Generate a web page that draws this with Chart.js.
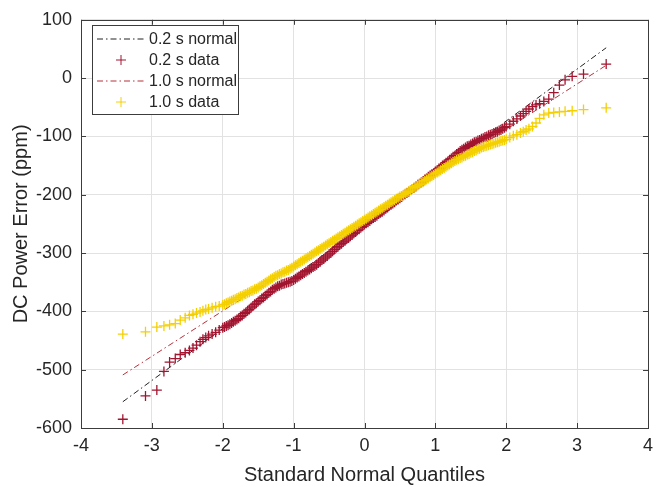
<!DOCTYPE html>
<html>
<head>
<meta charset="utf-8">
<script src="https://cdn.jsdelivr.net/npm/chart.js@4"></script>
<style>
  body { margin: 0; background: #fff; }
  #wrap { width: 668px; height: 487px; }
</style>
</head>
<body>
<div id="wrap"><canvas id="qqChart"></canvas></div>
<script>
// standard normal quantiles (shared by both series)
const quantiles = [
  -3.41, -3.09, -2.93, -2.83, -2.75, -2.67, -2.60, -2.53, -2.47, -2.42, -2.37, -2.32, -2.28, -2.24,
  -2.20, -2.15, -2.10, -2.05,
  -2.000, -1.975, -1.950, -1.925, -1.900, -1.875, -1.850, -1.825,
  -1.800, -1.775, -1.750, -1.725, -1.700, -1.675, -1.650, -1.625,
  -1.600, -1.575, -1.550, -1.525, -1.500, -1.475, -1.450, -1.425,
  -1.400, -1.375, -1.350, -1.325, -1.300, -1.275, -1.250, -1.225,
  -1.200, -1.175, -1.150, -1.125, -1.100, -1.075, -1.050, -1.025,
  -1.000, -0.975, -0.950, -0.925, -0.900, -0.875, -0.850, -0.825,
  -0.800, -0.775, -0.750, -0.725, -0.700, -0.675, -0.650, -0.625,
  -0.600, -0.575, -0.550, -0.525, -0.500, -0.475, -0.450, -0.425,
  -0.400, -0.375, -0.350, -0.325, -0.300, -0.275, -0.250, -0.225,
  -0.200, -0.175, -0.150, -0.125, -0.100, -0.075, -0.050, -0.025,
  0.000, 0.025, 0.050, 0.075, 0.100, 0.125, 0.150, 0.175,
  0.200, 0.225, 0.250, 0.275, 0.300, 0.325, 0.350, 0.375,
  0.400, 0.425, 0.450, 0.475, 0.500, 0.525, 0.550, 0.575,
  0.600, 0.625, 0.650, 0.675, 0.700, 0.725, 0.750, 0.775,
  0.800, 0.825, 0.850, 0.875, 0.900, 0.925, 0.950, 0.975,
  1.000, 1.025, 1.050, 1.075, 1.100, 1.125, 1.150, 1.175,
  1.200, 1.225, 1.250, 1.275, 1.300, 1.325, 1.350, 1.375,
  1.400, 1.425, 1.450, 1.475, 1.500, 1.525, 1.550, 1.575,
  1.600, 1.625, 1.650, 1.675, 1.700, 1.725, 1.750, 1.775,
  1.800, 1.825, 1.850, 1.875, 1.900, 1.925, 1.950, 1.975,
  2.000,
  2.05, 2.10, 2.15, 2.20,
  2.24, 2.28, 2.32, 2.37, 2.42, 2.47, 2.53, 2.60, 2.67, 2.75, 2.83, 2.93, 3.09, 3.41
];

// sorted DC power error, 0.2 s averaging (ppm)
const data02 = [
  -585, -545, -535, -503, -487, -481, -474, -471, -467, -463, -458, -452, -448, -445,
  -442, -439, -436, -432,
  -428, -427, -425, -424, -422, -420, -418, -416,
  -414, -412, -409, -407, -404, -402, -399, -397,
  -394, -391, -388, -386, -383, -381, -378, -376,
  -373, -371, -368, -366, -363, -361, -359, -357,
  -356, -354, -353, -352, -351, -350, -349, -348,
  -346, -344, -342, -340, -338, -336, -334, -332,
  -330, -328, -326, -324, -322, -320, -317, -315,
  -312, -310, -307, -305, -302, -300, -297, -294,
  -291, -289, -286, -284, -281, -279, -276, -274,
  -271, -269, -266, -264, -261, -259, -256, -254,
  -251, -249, -247, -245, -242, -240, -238, -236,
  -233, -231, -229, -227, -224, -222, -219, -217,
  -215, -213, -210, -208, -206, -204, -201, -199,
  -197, -195, -192, -190, -188, -186, -183, -181,
  -179, -177, -174, -172, -169, -167, -165, -163,
  -160, -158, -155, -153, -150, -148, -145, -143,
  -140, -138, -135, -133, -130, -128, -125, -123,
  -121, -119, -117, -116, -114, -112, -110, -109,
  -107, -106, -104, -103, -101, -100, -98, -97,
  -96, -94, -93, -92, -90, -89, -87, -85,
  -83,
  -79, -74, -70, -65,
  -61, -57, -53, -49, -46, -44, -40, -36, -25, -12, -3, 3, 7, 24
];

// sorted DC power error, 1.0 s averaging (ppm)
const data10 = [
  -439, -435, -427, -425, -423, -421, -415, -411, -407, -405, -403, -401, -399, -397,
  -396, -394, -392, -391,
  -389, -388, -386, -385, -383, -382, -380, -379,
  -377, -376, -374, -373, -371, -370, -368, -367,
  -365, -364, -362, -361, -359, -357, -355, -353,
  -351, -349, -347, -345, -343, -341, -339, -338,
  -336, -335, -333, -332, -330, -329, -327, -325,
  -323, -321, -319, -317, -315, -313, -311, -309,
  -307, -305, -303, -301, -299, -297, -295, -293,
  -291, -289, -287, -285, -283, -281, -279, -277,
  -275, -273, -271, -269, -267, -265, -263, -261,
  -259, -257, -255, -253, -251, -249, -247, -245,
  -243, -241, -239, -237, -235, -233, -231, -229,
  -227, -225, -223, -221, -219, -217, -215, -213,
  -211, -209, -207, -205, -203, -202, -200, -198,
  -196, -194, -192, -190, -188, -186, -184, -182,
  -180, -178, -176, -174, -172, -170, -168, -166,
  -164, -162, -160, -158, -156, -154, -152, -150,
  -148, -146, -144, -142, -140, -139, -137, -136,
  -134, -133, -131, -130, -128, -127, -125, -124,
  -122, -121, -119, -118, -117, -116, -115, -114,
  -113, -112, -111, -110, -109, -108, -107, -106,
  -105,
  -102, -99, -97, -94,
  -92, -89, -87, -83, -77, -69, -63, -60, -59, -58, -57, -56, -54, -51
];

// fitted normal reference lines: [x at min, x at max] -> [y, y]
const lineX = [-3.41, 3.41];
const normal02 = [-555, 52];
const normal10 = [-509, 22];

const xTicks = [-4, -3, -2, -1, 0, 1, 2, 3, 4];
const yTicks = [100, 0, -100, -200, -300, -400, -500, -600];

const FONT = "'Liberation Sans', Arial, Helvetica, sans-serif";
const TEXT = '#262626';
const RED = '#A2142F';
const YELLOW = '#F5D000';
const LINE_RED = '#B5303A';

const pts = (xs, ys) => xs.map((x, i) => ({ x: x, y: ys[i] }));

// box round the plot, inward ticks and the legend, drawn like the matlab figure
const figurePlugin = {
  id: 'figure',
  afterDraw(chart) {
    const { ctx, chartArea: a, scales } = chart;
    ctx.save();
    ctx.strokeStyle = '#3c3c3c';
    ctx.lineWidth = 1;
    ctx.strokeRect(Math.round(a.left) + 0.5, Math.round(a.top) + 0.5,
      Math.round(a.right - a.left), Math.round(a.bottom - a.top));
    ctx.beginPath();
    xTicks.forEach(v => {
      const px = Math.round(scales.x.getPixelForValue(v)) + 0.5;
      ctx.moveTo(px, a.bottom); ctx.lineTo(px, a.bottom - 5);
      ctx.moveTo(px, a.top); ctx.lineTo(px, a.top + 5);
    });
    yTicks.forEach(v => {
      const py = Math.round(scales.y.getPixelForValue(v)) + 0.5;
      ctx.moveTo(a.left, py); ctx.lineTo(a.left + 5, py);
      ctx.moveTo(a.right, py); ctx.lineTo(a.right - 5, py);
    });
    ctx.stroke();

    // legend
    const bx = 92.5, by = 25.5, bw = 146, bh = 89;
    ctx.fillStyle = '#fff';
    ctx.fillRect(bx, by, bw, bh);
    ctx.strokeStyle = '#3c3c3c';
    ctx.strokeRect(bx, by, bw, bh);
    ctx.font = '16px ' + FONT;
    ctx.textBaseline = 'middle';
    chart.data.datasets.forEach((ds, i) => {
      const cy = 39 + i * 21;
      if (ds.showLine) {
        ctx.strokeStyle = ds.borderColor;
        ctx.lineWidth = ds.borderWidth;
        ctx.setLineDash(ds.borderDash);
        ctx.beginPath();
        ctx.moveTo(97, cy); ctx.lineTo(145, cy);
        ctx.stroke();
        ctx.setLineDash([]);
      } else {
        ctx.strokeStyle = ds.borderColor;
        ctx.lineWidth = 1;
        Chart.helpers.drawPoint(ctx, { pointStyle: 'cross', radius: 5, borderWidth: 1 }, 121, cy);
      }
      ctx.fillStyle = TEXT;
      ctx.fillText(ds.label, 149, cy + 1);
    });
    ctx.restore();
  }
};

new Chart(document.getElementById('qqChart'), {
  type: 'scatter',
  data: {
    datasets: [
      {
        label: '0.2 s normal',
        data: pts(lineX, normal02),
        showLine: true,
        borderColor: '#222',
        borderWidth: 1,
        borderDash: [6, 3, 1.5, 3],
        pointRadius: 0,
        order: 3
      },
      {
        label: '0.2 s data',
        data: pts(quantiles, data02),
        pointStyle: 'cross',
        pointRadius: 5,
        borderColor: RED,
        borderWidth: 1.3,
        order: 2
      },
      {
        label: '1.0 s normal',
        data: pts(lineX, normal10),
        showLine: true,
        borderColor: LINE_RED,
        borderWidth: 1,
        borderDash: [6, 3, 1.5, 3],
        pointRadius: 0,
        order: 1
      },
      {
        label: '1.0 s data',
        data: pts(quantiles, data10),
        pointStyle: 'cross',
        pointRadius: 5,
        borderColor: YELLOW,
        borderWidth: 1.3,
        order: 0
      }
    ]
  },
  options: {
    responsive: true,
    maintainAspectRatio: false,
    animation: false,
    layout: { padding: { top: 13, right: 20, bottom: 0, left: 0 } },
    plugins: {
      legend: { display: false },
      tooltip: { enabled: false }
    },
    scales: {
      x: {
        type: 'linear',
        min: -4,
        max: 4,
        afterFit: s => { s.height = 59; },
        afterBuildTicks: s => { s.ticks = xTicks.map(v => ({ value: v })); },
        ticks: { color: TEXT, padding: 7, font: { family: FONT, size: 18 } },
        grid: { color: '#e2e2e2', drawTicks: false },
        border: { display: false },
        title: {
          display: true,
          text: 'Standard Normal Quantiles',
          color: TEXT,
          padding: { top: 1, bottom: 0 },
          font: { family: FONT, size: 20 }
        }
      },
      y: {
        type: 'linear',
        min: -600,
        max: 100,
        afterFit: s => { s.width = 81; },
        afterBuildTicks: s => { s.ticks = yTicks.map(v => ({ value: v })); },
        ticks: { color: TEXT, padding: 9, font: { family: FONT, size: 18 } },
        grid: { color: '#e2e2e2', drawTicks: false },
        border: { display: false },
        title: {
          display: true,
          text: 'DC Power Error (ppm)',
          color: TEXT,
          padding: { top: 9, bottom: 0 },
          font: { family: FONT, size: 20 }
        }
      }
    }
  },
  plugins: [figurePlugin]
});
</script>
</body>
</html>
